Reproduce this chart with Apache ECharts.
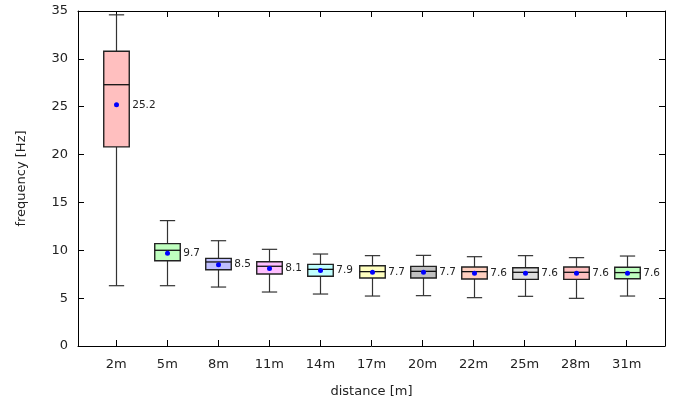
<!DOCTYPE html>
<html><head><meta charset="utf-8">
<script src="https://cdn.jsdelivr.net/npm/echarts@6/dist/echarts.min.js"></script>
<style>html,body{margin:0;padding:0;background:#fff}#c{width:673px;height:403px}</style>
</head><body><div id="c"></div>
<script>
const categories = ['2m','5m','8m','11m','14m','17m','20m','22m','25m','28m','31m'];
const whiskerLow = [6.3, 6.3, 6.16, 5.64, 5.43, 5.22, 5.26, 5.05, 5.19, 4.98, 5.22];
const q1 = [20.8, 8.9, 7.97, 7.52, 7.28, 7.1, 7.1, 7.0, 6.96, 6.96, 7.03];
const median = [27.3, 10.0, 8.78, 8.33, 8.01, 7.77, 7.8, 7.77, 7.7, 7.7, 7.67];
const q3 = [30.8, 10.7, 9.16, 8.8, 8.53, 8.39, 8.32, 8.25, 8.18, 8.25, 8.22];
const whiskerHigh = [34.6, 13.1, 11.0, 10.1, 9.61, 9.44, 9.47, 9.33, 9.44, 9.23, 9.4];
const mean = [25.2, 9.7, 8.5, 8.1, 7.9, 7.7, 7.7, 7.6, 7.6, 7.6, 7.6];
const yTicks = [0, 5, 10, 15, 20, 25, 30, 35];
const boxColors = ['#ffbfbf','#bfffbf','#bfbfff','#ffbfff','#bfffff','#ffffbf','#bfbfbf','#ffcfbf','#dedede','#ffbfbf','#bfffbf'];

const idx = categories.map((c, i) => i);
const data = idx.map(i => [i, whiskerLow[i], q1[i], median[i], q3[i], whiskerHigh[i], mean[i]]);

const font = 'DejaVu Sans';
const chart = echarts.init(document.getElementById('c'));
const axisCommon = {
  axisLine: {show: true, onZero: false, lineStyle: {color: '#000', width: 1}},
  splitLine: {show: false}
};
chart.setOption({
  animation: false,
  grid: {left: 78, right: 8, top: 11, bottom: 57},
  xAxis: [
    Object.assign({}, axisCommon, {
      type: 'value', min: -0.75, max: 10.75, position: 'bottom',
      name: 'distance [m]', nameLocation: 'middle', nameGap: 39,
      nameTextStyle: {fontFamily: font, fontSize: 13, color: '#222'},
      axisTick: {show: true, inside: true, length: 6, customValues: idx, lineStyle: {color: '#000'}},
      axisLabel: {show: true, customValues: idx, margin: 12, fontFamily: font, fontSize: 13, color: '#222',
        formatter: v => categories[Math.round(v)]}
    }),
    Object.assign({}, axisCommon, {
      type: 'value', min: -0.75, max: 10.75, position: 'top',
      axisTick: {show: true, inside: true, length: 6, customValues: idx, lineStyle: {color: '#000'}},
      axisLabel: {show: false}
    })
  ],
  yAxis: [
    Object.assign({}, axisCommon, {
      type: 'value', min: 0, max: 35, interval: 5, position: 'left',
      name: 'frequency [Hz]', nameLocation: 'middle', nameGap: 50, nameRotate: 90,
      nameTextStyle: {fontFamily: font, fontSize: 13, color: '#222'},
      axisTick: {show: true, inside: true, length: 6, customValues: yTicks, lineStyle: {color: '#000'}},
      axisLabel: {show: true, customValues: yTicks, margin: 10, fontFamily: font, fontSize: 13, color: '#222'}
    }),
    Object.assign({}, axisCommon, {
      type: 'value', min: 0, max: 35, interval: 5, position: 'right',
      axisTick: {show: true, inside: true, length: 6, customValues: yTicks, lineStyle: {color: '#000'}},
      axisLabel: {show: false}
    })
  ],
  series: [{
    type: 'custom',
    xAxisIndex: 0, yAxisIndex: 0,
    data: data,
    renderItem: function (params, api) {
      const x = api.value(0);
      const pLow = api.coord([x, api.value(1)]);
      const pQ1 = api.coord([x, api.value(2)]);
      const pMed = api.coord([x, api.value(3)]);
      const pQ3 = api.coord([x, api.value(4)]);
      const pHigh = api.coord([x, api.value(5)]);
      const pMean = api.coord([x, api.value(6)]);
      const halfBox = api.size([0.5, 0])[0] / 2;
      const halfCap = api.size([0.3, 0])[0] / 2;
      const cx = Math.round(pMed[0]) + 0.5;
      const line = {stroke: '#333', lineWidth: 1.2};
      const i = params.dataIndex;
      return {
        type: 'group',
        children: [
          {type: 'line', shape: {x1: cx, y1: pHigh[1], x2: cx, y2: pLow[1]}, style: line},
          {type: 'line', shape: {x1: cx - halfCap, y1: pHigh[1], x2: cx + halfCap, y2: pHigh[1]}, style: line},
          {type: 'line', shape: {x1: cx - halfCap, y1: pLow[1], x2: cx + halfCap, y2: pLow[1]}, style: line},
          {type: 'rect', shape: {x: cx - halfBox, y: pQ3[1], width: halfBox * 2, height: pQ1[1] - pQ3[1]},
            style: {fill: boxColors[i], stroke: '#222', lineWidth: 1.4}},
          {type: 'line', shape: {x1: cx - halfBox, y1: pMed[1], x2: cx + halfBox, y2: pMed[1]}, style: {stroke: '#111', lineWidth: 1.3}},
          {type: 'circle', shape: {cx: cx, cy: pMean[1], r: 2.5}, style: {fill: '#0000ff'}},
          {type: 'text', x: cx + halfBox + 3, y: pMean[1],
            style: {text: api.value(6).toFixed(1), fill: '#222', fontSize: 10.5, fontFamily: font, verticalAlign: 'middle', align: 'left'}}
        ]
      };
    }
  }]
});
</script>
</body></html>
